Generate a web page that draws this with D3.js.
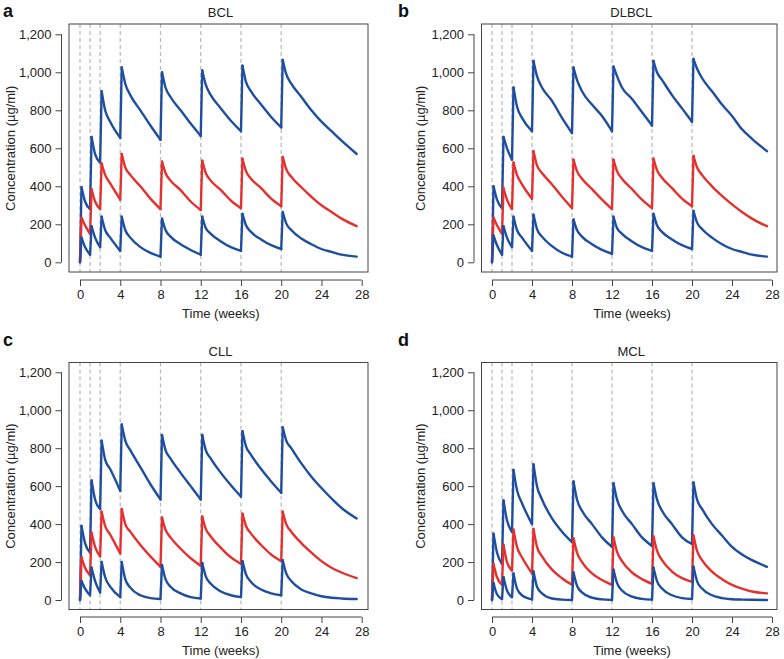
<!DOCTYPE html>
<html>
<head>
<meta charset="utf-8">
<script src="https://cdn.jsdelivr.net/npm/d3@7"></script>
<style>
  html, body { margin: 0; padding: 0; background: #fff; }
  svg { display: block; font-family: "Liberation Sans", Arial, Helvetica, sans-serif; }
</style>
</head>
<body>
<svg id="chart" width="784" height="659"></svg>
<script>
// ---- Data ----
const doseWeeks = [0, 1, 2, 4, 8, 12, 16, 20];
const xTicks = [0, 4, 8, 12, 16, 20, 24, 28];
const yTicks = [0, 200, 400, 600, 800, 1000, 1200];
const panelLetters = ["a", "b", "c", "d"];
const panelTitles = ["BCL", "DLBCL", "CLL", "MCL"];

// sample times (weeks) shared by all series
const times = [0, 0.15, 0.5, 1,
  1.15, 1.5, 2,
  2.15, 2.5, 3, 4,
  4.15, 4.5, 5, 6, 7, 8,
  8.15, 8.5, 9, 10, 11, 12,
  12.15, 12.5, 13, 14, 15, 16,
  16.15, 16.5, 17, 18, 19, 20,
  20.15, 20.5, 21, 22, 23, 24, 25, 26, 27.5];

// BCL
const bclUpper = [0, 395, 320, 280,
  660, 570, 525,
  900, 800, 740, 655,
  1025, 940, 880, 800, 720, 645,
  1000, 920, 870, 800, 730, 665,
  1010, 935, 880, 810, 745, 690,
  1035, 950, 900, 830, 765, 710,
  1065, 990, 940, 870, 800, 740, 690, 640, 570];
const bclMedian = [0, 235, 195, 150,
  385, 320, 280,
  520, 460, 415, 330,
  570, 500, 460, 400, 335, 280,
  530, 470, 430, 380, 320, 275,
  535, 470, 430, 380, 325, 285,
  545, 480, 440, 390, 335, 295,
  555, 490, 450, 395, 345, 300, 265, 230, 190];
const bclLower = [0, 130, 80, 40,
  190, 130, 80,
  240, 170, 130, 60,
  240, 170, 130, 80, 50, 30,
  230, 170, 135, 95, 65, 40,
  240, 180, 150, 110, 80, 60,
  255, 195, 160, 120, 90, 70,
  265, 205, 170, 125, 95, 70, 55, 40, 30];

// DLBCL
const dlbclUpper = [0, 400, 330, 285,
  660, 600, 540,
  920, 820, 760, 690,
  1060, 980, 920, 850, 760, 680,
  1025, 960, 900, 830, 770, 690,
  1030, 980, 920, 860, 790, 720,
  1060, 1000, 960, 880, 810, 740,
  1070, 1020, 970, 900, 830, 770, 700, 650, 585];
const dlbclMedian = [0, 235, 195, 150,
  390, 330, 280,
  525, 460, 410, 335,
  585, 510, 470, 410, 345, 285,
  540, 480, 440, 385, 330, 280,
  540, 480, 440, 385, 330, 285,
  545, 485, 445, 390, 335, 295,
  560, 500, 460, 400, 350, 305, 265, 230, 190];
const dlbclLower = [0, 140, 90, 40,
  190, 130, 80,
  240, 170, 130, 60,
  250, 175, 135, 85, 50, 30,
  225, 170, 135, 95, 65, 45,
  240, 180, 150, 110, 80, 60,
  255, 195, 160, 120, 90, 70,
  270, 210, 175, 130, 95, 70, 55, 40, 30];

// CLL
const cllUpper = [0, 390, 300, 250,
  630, 530, 480,
  840, 740, 690, 575,
  925, 840, 790, 700, 610, 530,
  870, 790, 745, 670, 600, 530,
  870, 790, 745, 670, 605, 545,
  890, 810, 765, 690, 625, 565,
  910, 840, 800, 720, 650, 590, 535, 485, 430];
const cllMedian = [0, 225, 170, 130,
  355, 280, 230,
  465, 390, 345, 245,
  480, 400, 360, 290, 230, 175,
  435, 370, 330, 270, 220, 180,
  440, 375, 335, 275, 225, 190,
  455, 390, 350, 290, 240, 205,
  465, 400, 360, 300, 250, 205, 170, 145, 115];
const cllLower = [0, 100, 60, 25,
  170, 100, 40,
  200, 120, 70, 15,
  200, 110, 65, 25, 10, 5,
  185, 110, 70, 35, 15, 8,
  195, 125, 85, 45, 25, 15,
  205, 135, 95, 55, 35, 25,
  210, 140, 100, 55, 35, 20, 12, 8, 5];

// MCL
const mclUpper = [0, 350, 250, 190,
  525, 420, 360,
  685, 580, 510, 400,
  715, 600, 530, 430, 360, 305,
  625, 530, 470, 400, 330, 280,
  615, 530, 470, 400, 330, 285,
  615, 530, 470, 400, 330, 295,
  620, 530, 480, 400, 340, 280, 240, 210, 175];
const mclMedian = [0, 190, 120, 80,
  290, 200, 155,
  370, 280, 225, 140,
  375, 280, 230, 160, 115, 80,
  325, 250, 200, 140, 105, 80,
  330, 255, 205, 145, 110, 85,
  335, 260, 210, 150, 115, 95,
  340, 260, 210, 150, 110, 80, 60, 45, 35];
const mclLower = [0, 90, 30, 5,
  120, 50, 15,
  140, 60, 25, 3,
  150, 70, 35, 8, 2, 0,
  145, 75, 40, 12, 3, 0,
  160, 90, 50, 18, 6, 2,
  170, 100, 60, 25, 10, 5,
  175, 100, 60, 25, 10, 4, 2, 1, 0];

const panelSeries = [
  [bclUpper, bclMedian, bclLower],
  [dlbclUpper, dlbclMedian, dlbclLower],
  [cllUpper, cllMedian, cllLower],
  [mclUpper, mclMedian, mclLower]
];

// ---- Layout ----
const blue = "#1f4e9f";
const red = "#e4312f";
const seriesColors = [blue, red, blue];

const layouts = [
  { letterX: 3, letterY: 17, frame: [69, 24, 368, 272], x0: 80, x28: 361.7, y0: 262.3, y1200: 34.3, axisX: 61.5, axisY: 280, ylabX: 11 },
  { letterX: 398, letterY: 17, frame: [481.5, 24, 777, 272], x0: 492, x28: 772, y0: 262.3, y1200: 34.3, axisX: 474, axisY: 280, ylabX: 421 },
  { letterX: 3, letterY: 346, frame: [69, 362.5, 368, 609.5], x0: 80, x28: 361.7, y0: 600, y1200: 372.3, axisX: 61.5, axisY: 617, ylabX: 11 },
  { letterX: 398, letterY: 346, frame: [481.5, 362.5, 777, 609.5], x0: 492, x28: 772, y0: 600, y1200: 372.3, axisX: 474, axisY: 617, ylabX: 421 }
];

// index ranges: jump (dose -> peak) and decay (peak -> next dose / end)
const doseIdx = doseWeeks.map(d => times.indexOf(d));
const segments = doseIdx.map((di, j) => ({
  jump: [di, di + 1],
  decay: [di + 1, j + 1 < doseIdx.length ? doseIdx[j + 1] : times.length - 1]
}));

const svg = d3.select("#chart");
const fmt = d3.format(",");

layouts.forEach((L, i) => {
  const g = svg.append("g");
  const x = d3.scaleLinear().domain([0, 28]).range([L.x0, L.x28]);
  const y = d3.scaleLinear().domain([0, 1200]).range([L.y0, L.y1200]);
  const [fx0, fy0, fx1, fy1] = L.frame;

  g.append("text").attr("x", L.letterX).attr("y", L.letterY)
    .attr("font-size", 18).attr("font-weight", "bold").attr("fill", "#111")
    .text(panelLetters[i]);
  g.append("text").attr("x", (fx0 + fx1) / 2 + 2).attr("y", fy0 - 7)
    .attr("text-anchor", "middle").attr("font-size", 13).attr("fill", "#222")
    .text(panelTitles[i]);

  g.append("g").selectAll("line").data(doseWeeks).join("line")
    .attr("x1", d => x(d)).attr("x2", d => x(d))
    .attr("y1", fy0).attr("y2", fy1)
    .attr("stroke", "#b8b8b8").attr("stroke-width", 1.2)
    .attr("stroke-dasharray", "4,3");

  const decayLine = d3.line().x(p => x(p[0])).y(p => y(p[1])).curve(d3.curveMonotoneX);
  const jumpLine = d3.line().x(p => x(p[0])).y(p => y(p[1]));
  panelSeries[i].forEach((vals, s) => {
    const pts = times.map((t, k) => [t, vals[k]]);
    const sg = g.append("g").attr("fill", "none").attr("stroke", seriesColors[s])
      .attr("stroke-width", 2.4).attr("stroke-linejoin", "round").attr("stroke-linecap", "round");
    segments.forEach(seg => {
      sg.append("path").attr("d", jumpLine(pts.slice(seg.jump[0], seg.jump[1] + 1)));
      sg.append("path").attr("d", decayLine(pts.slice(seg.decay[0], seg.decay[1] + 1)));
    });
  });

  g.append("rect").attr("x", fx0).attr("y", fy0)
    .attr("width", fx1 - fx0).attr("height", fy1 - fy0)
    .attr("fill", "none").attr("stroke", "#444").attr("stroke-width", 1);

  const xAxis = d3.axisBottom(x).tickValues(xTicks).tickSize(6).tickPadding(4).tickFormat(d3.format("d"));
  const xg = g.append("g").attr("transform", `translate(0,${L.axisY})`).call(xAxis);
  const yAxis = d3.axisLeft(y).tickValues(yTicks).tickSize(6).tickPadding(4).tickFormat(fmt);
  const yg = g.append("g").attr("transform", `translate(${L.axisX},0)`).call(yAxis);
  [xg, yg].forEach(a => {
    a.select(".domain").attr("stroke", "#444").attr("stroke-width", 1)
      .attr("d", a === xg ? `M${L.x0},0H${L.x28}` : `M0,${L.y0}V${L.y1200}`);
    a.selectAll(".tick line").attr("stroke", "#444");
    a.selectAll(".tick text").attr("font-size", 13).attr("fill", "#222")
      .attr("font-family", "'Liberation Sans', Arial, sans-serif");
  });

  g.append("text").attr("x", (L.x0 + L.x28) / 2).attr("y", L.axisY + 38)
    .attr("text-anchor", "middle").attr("font-size", 13).attr("fill", "#222")
    .text("Time (weeks)");
  g.append("text")
    .attr("transform", `translate(${L.ylabX + 4},${(L.y0 + L.y1200) / 2}) rotate(-90)`)
    .attr("text-anchor", "middle").attr("font-size", 13).attr("fill", "#222")
    .text("Concentration (µg/ml)");
});
</script>
</body>
</html>
